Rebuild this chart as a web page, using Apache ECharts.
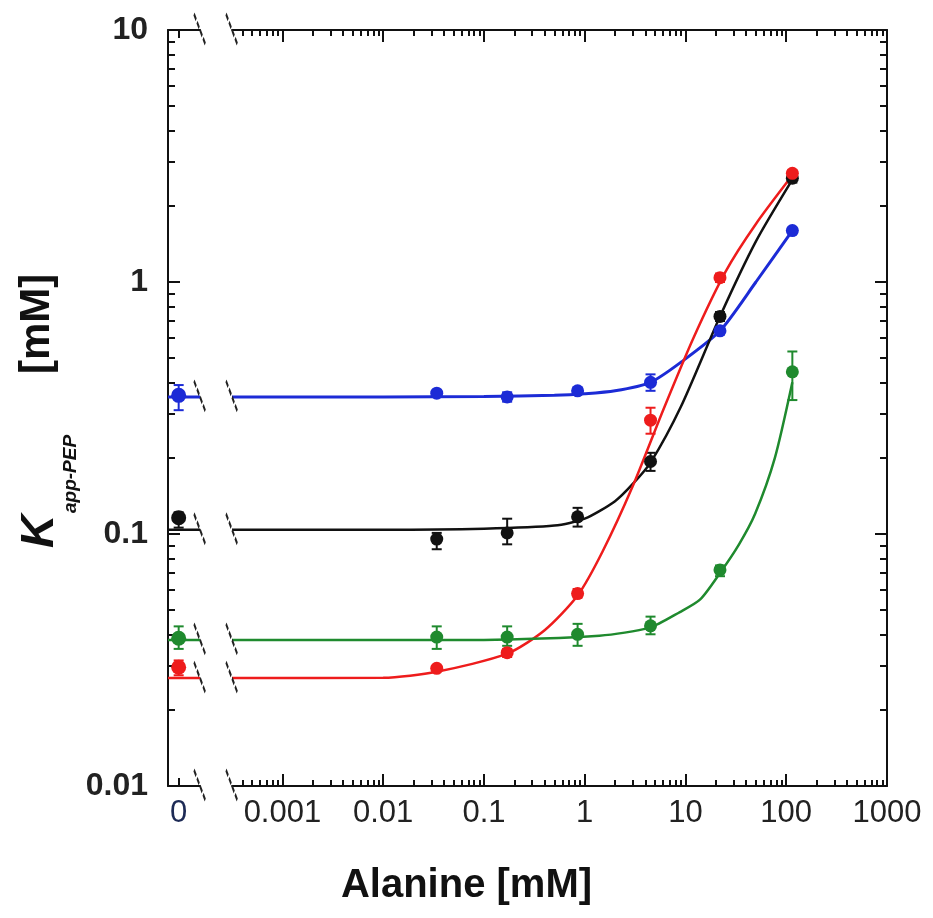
<!DOCTYPE html>
<html>
<head>
<meta charset="utf-8">
<script src="https://cdn.jsdelivr.net/npm/echarts@6/dist/echarts.min.js"></script>
<style>
  html, body { margin: 0; background: #fff; }
  #main { width: 933px; height: 918px; }
</style>
</head>
<body>
<div id="main"></div>
<script>
// alanine concentrations (mM); the 0 mM point sits left of the axis break
var alanine = [0.034, 0.17, 0.85, 4.5, 22, 115];

// K app-PEP (mM). first entry = 0 mM point, then one per alanine value
var blueK  = [0.355, 0.362, 0.35, 0.37, 0.40, 0.64, 1.6];
var blueLo = [0.31, 0.352, 0.335, 0.36, 0.37, 0.62, 1.56];
var blueHi = [0.39, 0.372, 0.365, 0.38, 0.43, 0.66, 1.64];

var blackK  = [0.116, 0.0955, 0.101, 0.117, 0.194, 0.73, 2.58];
var blackLo = [0.106, 0.087, 0.091, 0.107, 0.178, 0.70, 2.48];
var blackHi = [0.122, 0.101, 0.115, 0.127, 0.21, 0.76, 2.68];

var redK  = [0.0296, 0.0293, 0.0338, 0.058, 0.283, 1.04, 2.7];
var redLo = [0.0275, 0.0287, 0.0325, 0.056, 0.25, 1.0, 2.62];
var redHi = [0.0315, 0.0299, 0.035, 0.0605, 0.317, 1.08, 2.78];

var greenK  = [0.0386, 0.039, 0.039, 0.040, 0.0432, 0.072, 0.44];
var greenLo = [0.035, 0.035, 0.036, 0.036, 0.040, 0.068, 0.34];
var greenHi = [0.043, 0.043, 0.043, 0.044, 0.047, 0.075, 0.53];

// fitted curves
var blueFitX = [0.000316, 0.01, 0.1, 0.5, 1, 2, 4.5, 9, 22, 50, 115];
var blueFitY = [0.35, 0.35, 0.351, 0.355, 0.36, 0.37, 0.40, 0.48, 0.64, 1.0, 1.6];
var blackFitX = [0.000316, 0.01, 0.1, 0.5, 1, 2, 3, 4.5, 9, 22, 50, 115];
var blackFitY = [0.104, 0.104, 0.105, 0.108, 0.115, 0.135, 0.158, 0.192, 0.32, 0.73, 1.45, 2.55];
var redFitX = [0.000316, 0.01, 0.034, 0.17, 0.4, 0.85, 1.5, 3, 6, 12, 25, 50, 115];
var redFitY = [0.0268, 0.0269, 0.0284, 0.0335, 0.0415, 0.057, 0.085, 0.155, 0.31, 0.6, 1.1, 1.7, 2.65];
var greenFitX = [0.000316, 0.01, 0.1, 1.4, 4.4, 8.8, 14, 22, 34, 49, 77, 115];
var greenFitY = [0.038, 0.038, 0.038, 0.0395, 0.0425, 0.049, 0.055, 0.07, 0.091, 0.12, 0.2, 0.4];

var xMajor = [0.001, 0.01, 0.1, 1, 10, 100, 1000];
var yMajor = [0.01, 0.1, 1, 10];

var X_MIN = 0.000316, X_MAX = 1000, Y_MIN = 0.01, Y_MAX = 10;
var FONT = "'Liberation Sans', Arial, sans-serif";

function minors(decades, lo, hi) {
  var out = [];
  decades.forEach(function (d) {
    for (var m = 2; m <= 9; m++) {
      var v = d * m;
      if (v > lo && v < hi) out.push(v);
    }
  });
  return out;
}
var xMinor = minors([0.0001, 0.001, 0.01, 0.1, 1, 10, 100], X_MIN, X_MAX);
var yMinor = minors([0.01, 0.1, 1], Y_MIN, Y_MAX);

var frame = { show: true, onZero: false, lineStyle: { color: '#111', width: 2 } };
var noLine = { show: false, onZero: false };

function logAxis(o) {
  return Object.assign({
    type: 'log', logBase: 10, splitLine: { show: false },
    axisLine: noLine, axisTick: { show: false }, axisLabel: { show: false }
  }, o);
}
function ticks(vals, len) {
  return { show: true, inside: true, length: len, customValues: vals, lineStyle: { color: '#111', width: 2 } };
}

function errorBars(color) {
  return function (params, api) {
    var x = api.value(0);
    var lo = api.coord([x, api.value(1)]);
    var hi = api.coord([x, api.value(2)]);
    var s = { stroke: color, lineWidth: 2 };
    return { type: 'group', children: [
      { type: 'line', shape: { x1: lo[0], y1: lo[1], x2: hi[0], y2: hi[1] }, style: s },
      { type: 'line', shape: { x1: lo[0] - 5, y1: lo[1], x2: lo[0] + 5, y2: lo[1] }, style: s },
      { type: 'line', shape: { x1: hi[0] - 5, y1: hi[1], x2: hi[0] + 5, y2: hi[1] }, style: s }
    ] };
  };
}

var groups = [
  { color: '#1c2bd6', k: blueK, lo: blueLo, hi: blueHi, fx: blueFitX, fy: blueFitY, w: 3 },
  { color: '#111111', k: blackK, lo: blackLo, hi: blackHi, fx: blackFitX, fy: blackFitY, w: 2.5 },
  { color: '#ee1c1c', k: redK, lo: redLo, hi: redHi, fx: redFitX, fy: redFitY, w: 2.5 },
  { color: '#1f8a2e', k: greenK, lo: greenLo, hi: greenHi, fx: greenFitX, fy: greenFitY, w: 2.5 }
];

var series = [];
var breakLeft = [[2, Y_MIN], [2, Y_MAX]];
var breakRight = [[X_MIN, Y_MIN], [X_MIN, Y_MAX]];

groups.forEach(function (g) {
  var level = g.fy[0];
  breakLeft.push([2, level]);
  breakRight.push([X_MIN, level]);
  // flat part of the fit left of the break
  series.push({ type: 'line', xAxisIndex: 0, yAxisIndex: 0, showSymbol: false, silent: true,
    data: [[-1, level], [2, level]], lineStyle: { color: g.color, width: g.w } });
  series.push({ type: 'line', xAxisIndex: 2, yAxisIndex: 2, showSymbol: false, smooth: 0.25, silent: true,
    data: g.fx.map(function (x, i) { return [x, g.fy[i]]; }), lineStyle: { color: g.color, width: g.w } });
  series.push({ type: 'custom', xAxisIndex: 0, yAxisIndex: 0, renderItem: errorBars(g.color),
    encode: { x: 0, y: [1, 2] }, data: [[0, g.lo[0], g.hi[0]]], z: 3 });
  series.push({ type: 'custom', xAxisIndex: 2, yAxisIndex: 2, renderItem: errorBars(g.color),
    encode: { x: 0, y: [1, 2] }, z: 3,
    data: alanine.map(function (c, i) { return [c, g.lo[i + 1], g.hi[i + 1]]; }) });
  series.push({ type: 'scatter', xAxisIndex: 0, yAxisIndex: 0, symbol: 'circle', symbolSize: 15, z: 4,
    itemStyle: { color: g.color, opacity: 1 }, data: [[0, g.k[0]]] });
  series.push({ type: 'scatter', xAxisIndex: 2, yAxisIndex: 2, symbol: 'circle', symbolSize: 13, z: 4,
    itemStyle: { color: g.color, opacity: 1 }, data: alanine.map(function (c, i) { return [c, g.k[i + 1]]; }) });
});

var slash = 'path://M0,0 L10,30';
var breakStyle = { color: 'transparent', borderColor: '#222', borderWidth: 2.5, borderType: [5, 2], opacity: 1 };
series.push({ type: 'scatter', xAxisIndex: 0, yAxisIndex: 0, symbol: slash, symbolSize: [12, 32],
  clip: false, silent: true, itemStyle: breakStyle, data: breakLeft, z: 5 });
series.push({ type: 'scatter', xAxisIndex: 2, yAxisIndex: 2, symbol: slash, symbolSize: [12, 32],
  clip: false, silent: true, itemStyle: breakStyle, data: breakRight, z: 5 });

var chart = echarts.init(document.getElementById('main'));
chart.setOption({
  backgroundColor: '#fff',
  animation: false,
  grid: [
    { left: 168, width: 32, top: 30, height: 756, outerBoundsMode: 'none' },
    { left: 232, right: 46, top: 30, height: 756, outerBoundsMode: 'none' }
  ],
  xAxis: [
    { type: 'value', gridIndex: 0, position: 'bottom', min: -1, max: 2, splitLine: { show: false },
      axisLine: frame, axisTick: ticks([0], 8),
      axisLabel: { customValues: [0], formatter: function () { return '0'; }, margin: 12,
        fontSize: 31, fontFamily: FONT, color: '#1d2a55' } },
    { type: 'value', gridIndex: 0, position: 'top', min: -1, max: 2, splitLine: { show: false },
      axisLine: frame, axisTick: ticks([0], 8), axisLabel: { show: false } },
    logAxis({ gridIndex: 1, position: 'bottom', min: X_MIN, max: X_MAX, axisLine: frame,
      axisTick: ticks(xMajor, 12),
      axisLabel: { show: true, customValues: xMajor, margin: 12, fontSize: 31, fontFamily: FONT, color: '#222',
        formatter: function (v) { return String(v); } } }),
    logAxis({ gridIndex: 1, position: 'bottom', min: X_MIN, max: X_MAX, axisTick: ticks(xMinor, 6) }),
    logAxis({ gridIndex: 1, position: 'top', min: X_MIN, max: X_MAX, axisLine: frame, axisTick: ticks(xMajor, 12) }),
    logAxis({ gridIndex: 1, position: 'top', min: X_MIN, max: X_MAX, axisTick: ticks(xMinor, 6) })
  ],
  yAxis: [
    logAxis({ gridIndex: 0, position: 'left', min: Y_MIN, max: Y_MAX, axisLine: frame,
      axisTick: ticks(yMajor, 12),
      axisLabel: { show: true, customValues: yMajor, margin: 20, fontSize: 32, fontWeight: 'bold',
        fontFamily: FONT, color: '#222', formatter: function (v) { return String(v); } } }),
    logAxis({ gridIndex: 0, position: 'left', min: Y_MIN, max: Y_MAX, axisTick: ticks(yMinor, 7) }),
    logAxis({ gridIndex: 1, position: 'right', min: Y_MIN, max: Y_MAX, axisLine: frame, axisTick: ticks(yMajor, 12) }),
    logAxis({ gridIndex: 1, position: 'right', min: Y_MIN, max: Y_MAX, axisTick: ticks(yMinor, 7) })
  ],
  graphic: [
    { type: 'text', left: 'center', top: 866,
      style: { text: 'Alanine [mM]', font: 'bold 40px ' + FONT, fill: '#111' } },
    { type: 'text', x: 40, y: 548, rotation: Math.PI / 2,
      style: { text: 'K', font: 'italic bold 46px ' + FONT, fill: '#111', textAlign: 'left', textVerticalAlign: 'middle' } },
    { type: 'text', x: 71, y: 513, rotation: Math.PI / 2,
      style: { text: 'app-PEP', font: 'italic bold 19px ' + FONT, fill: '#111', textAlign: 'left', textVerticalAlign: 'middle' } },
    { type: 'text', x: 37, y: 374, rotation: Math.PI / 2,
      style: { text: '[mM]', font: 'bold 42px ' + FONT, fill: '#111', textAlign: 'left', textVerticalAlign: 'middle' } }
  ],
  series: series
});
</script>
</body>
</html>
